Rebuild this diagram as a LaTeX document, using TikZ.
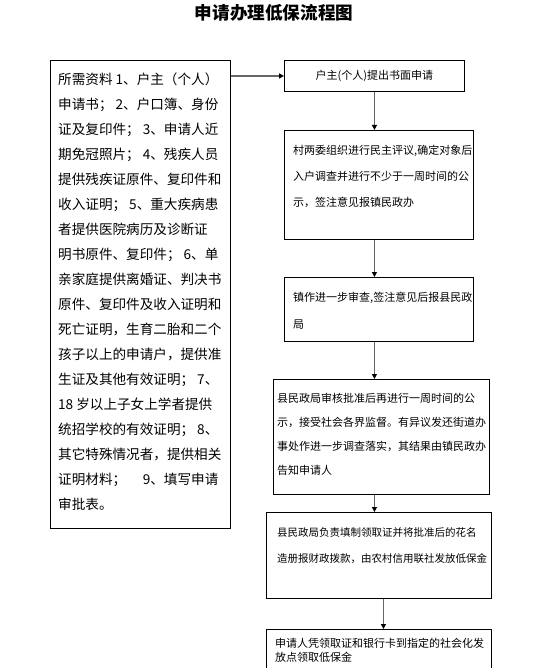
\documentclass[tikz,border=0pt]{standalone}
\usepackage{fontspec}
\setmainfont{Noto Sans CJK SC}
\usetikzlibrary{arrows.meta,positioning,calc}

\begin{document}
\begin{tikzpicture}[
  x=1pt, y=-1pt,
  box/.style={draw, line width=0.9pt, anchor=north west, inner sep=0pt},
  txt/.style={anchor=north west, align=left, inner sep=0pt, font=\fontsize{11}{26}\selectfont},
  arr/.style={-{Triangle[length=5pt,width=5pt,color=black]}, line width=1.3pt, draw=black!60}
]
\useasboundingbox (0,0) rectangle (553,668);
\clip (0,0) rectangle (553,668);

\node[font=\fontsize{17.6}{20}\selectfont\bfseries] (title) at (274,13) {申请办理低保流程图};

% materials box on the left
\node[box, minimum width=180pt, minimum height=468pt] (docs) at (50,60) {};
\node[txt, font=\fontsize{13.6}{25}\selectfont] (docstxt) at (58,73) {%
所需资料 1、户主（个人）\\
申请书； 2、户口簿、身份\\
证及复印件； 3、申请人近\\
期免冠照片； 4、残疾人员\\
提供残疾证原件、复印件和\\
收入证明； 5、重大疾病患\\
者提供医院病历及诊断证\\
明书原件、复印件； 6、单\\
亲家庭提供离婚证、判决书\\
原件、复印件及收入证明和\\
死亡证明，生育二胎和二个\\
孩子以上的申请户，提供准\\
生证及其他有效证明； 7、\\
18 岁以上子女上学者提供\\
统招学校的有效证明； 8、\\
其它特殊情况者，提供相关\\
证明材料；\quad\ 9、填写申请\\
审批表。};

% steps on the right
\node[box, minimum width=180pt, minimum height=31pt] (apply) at (284,60) {};
\node[font=\fontsize{11}{13}\selectfont] (applytxt) at (apply.center) {户主(个人)提出书面申请};

\node[box, minimum width=189pt, minimum height=109pt] (village) at (284,130) {};
\node[txt] (villagetxt) at (293,144.5) {村两委组织进行民主评议,确定对象后\\入户调查并进行不少于一周时间的公\\示，签注意见报镇民政办};

\node[box, minimum width=189pt, minimum height=64pt] (town) at (284,277) {};
\node[txt, font=\fontsize{11}{27}\selectfont] (towntxt) at (293,292) {镇作进一步审查,签注意见后报县民政\\局};

\node[box, minimum width=216pt, minimum height=115pt] (county) at (273,379) {};
\node[txt, font=\fontsize{11}{24.2}\selectfont] (countytxt) at (277,392.5) {县民政局审核批准后再进行一周时间的公\\示，接受社会各界监督。有异议发还街道办\\事处作进一步调查落实，其结果由镇民政办\\告知申请人};

\node[box, minimum width=225pt, minimum height=86pt] (fund) at (266,512) {};
\node[txt, font=\fontsize{10.5}{26}\selectfont] (fundtxt) at (277,527.5) {县民政局负责填制领取证并将批准后的花名\\造册报财政拨款，由农村信用联社发放低保金};

\node[box, minimum width=225pt, minimum height=60pt] (collect) at (266,629) {};
\node[txt, font=\fontsize{11}{14}\selectfont] (collecttxt) at (275,637.5) {申请人凭领取证和银行卡到指定的社会化发\\放点领取低保金};

\draw[arr] (docs.east |- apply.west) -- (apply.west);
\draw[arr] (apply.south) -- (apply.south |- village.north);
\draw[arr] (apply.south |- village.south) -- (apply.south |- town.north);
\draw[arr] (apply.south |- town.south) -- (apply.south |- county.north);
\draw[arr] (apply.south |- county.south) -- (apply.south |- fund.north);
\draw[arr] ($(fund.south)+(4.5,0)$) -- ($(fund.south |- collect.north)+(4.5,0)$);

\end{tikzpicture}
\end{document}
